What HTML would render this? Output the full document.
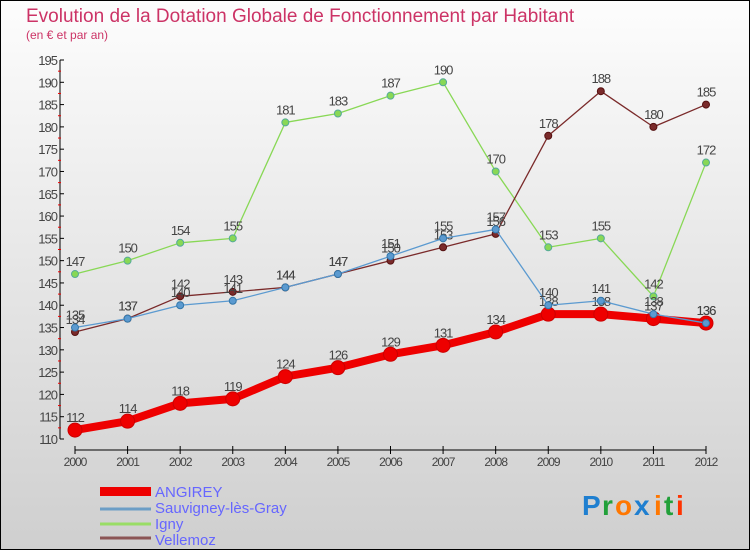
<!DOCTYPE html>
<html><head><meta charset="utf-8"><style>
body{margin:0;width:750px;height:550px;overflow:hidden;font-family:"Liberation Sans",sans-serif}
svg text{font-family:"Liberation Sans",sans-serif}
</style></head><body>
<svg id="c" width="750" height="550" xmlns="http://www.w3.org/2000/svg">
<defs><linearGradient id="bg" x1="0" y1="0" x2="0" y2="1"><stop offset="0" stop-color="#fdfdfd"/><stop offset="1" stop-color="#cfcfcf"/></linearGradient></defs>
<rect x="0.5" y="0.5" width="749" height="549" fill="url(#bg)" stroke="#000"/>
<text x="26" y="22" font-size="19" fill="#cc3366">Evolution de la Dotation Globale de Fonctionnement par Habitant</text>
<text x="26" y="39" font-size="12" fill="#cc3366">(en € et par an)</text>
<g id="axes"></g><g id="series"></g>
<g>
<rect x="100" y="487" width="51" height="9" fill="#e00"/>
<text x="155" y="497" font-size="15" fill="#6666ff">ANGIREY</text>
<line x1="100" y1="509" x2="151" y2="509" stroke="#6c9ec6" stroke-width="3"/>
<text x="155" y="513" font-size="15" fill="#6666ff">Sauvigney-lès-Gray</text>
<line x1="100" y1="524" x2="151" y2="524" stroke="#99dd66" stroke-width="3"/>
<text x="155" y="529" font-size="15" fill="#6666ff">Igny</text>
<line x1="100" y1="538" x2="151" y2="538" stroke="#8b5555" stroke-width="3"/>
<text x="155" y="545" font-size="15" fill="#6666ff">Vellemoz</text>
</g>
<g font-size="28" font-weight="bold">
<text x="582" y="515" fill="#1f7fd0">P</text><text x="602" y="515" fill="#22a03a">r</text><text x="615" y="515" fill="#ff7700">o</text><text x="634" y="515" fill="#1f7fd0">x</text><text x="654" y="515" fill="#ff7700">i</text><text x="664" y="515" fill="#22a03a">t</text><text x="676" y="515" fill="#ff3300">i</text>
</g>
</svg>
<script>
const years=[2000,2001,2002,2003,2004,2005,2006,2007,2008,2009,2010,2011,2012];
const angirey=[112,114,118,119,124,126,129,131,134,138,138,137,136];
const sauvigney=[135,137,140,141,144,147,151,155,157,140,141,138,136];
const igny=[147,150,154,155,181,183,187,190,170,153,155,142,172];
const vellemoz=[134,137,142,143,144,147,150,153,156,178,188,180,185];
const yTicks=[110,115,120,125,130,135,140,145,150,155,160,165,170,175,180,185,190,195];
const NS="http://www.w3.org/2000/svg";
const x=i=>75+i*(706-75)/(years.length-1);
const y=v=>439-(v-110)*(379/85);
function mk(t,a,p){const e=document.createElementNS(NS,t);for(const k in a)e.setAttribute(k,a[k]);p.appendChild(e);return e;}
const ax=document.getElementById('axes');
const yl=mk('line',{x1:60,y1:y(195),x2:60,y2:439,stroke:'#000'},ax);


yTicks.forEach(v=>{
 mk('line',{x1:60,y1:y(v),x2:64,y2:y(v),stroke:'#000'},ax);
 if(v<195) mk('line',{x1:58,y1:y(v+2.5),x2:61,y2:y(v+2.5),stroke:'#e00'},ax);
 const t=mk('text',{x:57,y:y(v)+5,'font-size':13,fill:'#444','text-anchor':'end','letter-spacing':'-1'},ax);
 t.textContent=v;
 
 
});
const xl=mk('line',{x1:75,y1:450,x2:706,y2:450,stroke:'#000'},ax);


years.forEach((yr,i)=>{
 mk('line',{x1:x(i),y1:446,x2:x(i),y2:454,stroke:'#000'},ax);
 const t=mk('text',{x:x(i),y:466,'font-size':12,fill:'#444','text-anchor':'middle','letter-spacing':'-1'},ax);
 t.textContent=yr;
 
 
});
const sg=document.getElementById('series');
function draw(name,data,color,w,r,dark){
 const g=mk('g',{},sg);
 
 
 mk('polyline',{points:data.map((v,i)=>x(i)+','+y(v)).join(' '),fill:'none',stroke:color,'stroke-width':w,'stroke-linejoin':'round'},g);
 data.forEach((v,i)=>{
  const c=mk('circle',{cx:x(i),cy:y(v),r:r,fill:color,stroke:dark,'stroke-width':1},g);
  
  
  const t=mk('text',{x:x(i),y:y(v)-8,'font-size':13,fill:'#444','text-anchor':'middle','letter-spacing':'-1'},g);
  t.textContent=v;
  
  
 });
}
draw('igny',igny,'#88d855',1.3,3.5,'#5a9');
draw('vellemoz',vellemoz,'#7a2a2a',1.3,3.5,'#511');
draw('angirey',angirey,'#ee0000',8,7,'#c00');
draw('sauvigney',sauvigney,'#5b9ad0',1.3,3.5,'#37a');
</script>
</body></html>
